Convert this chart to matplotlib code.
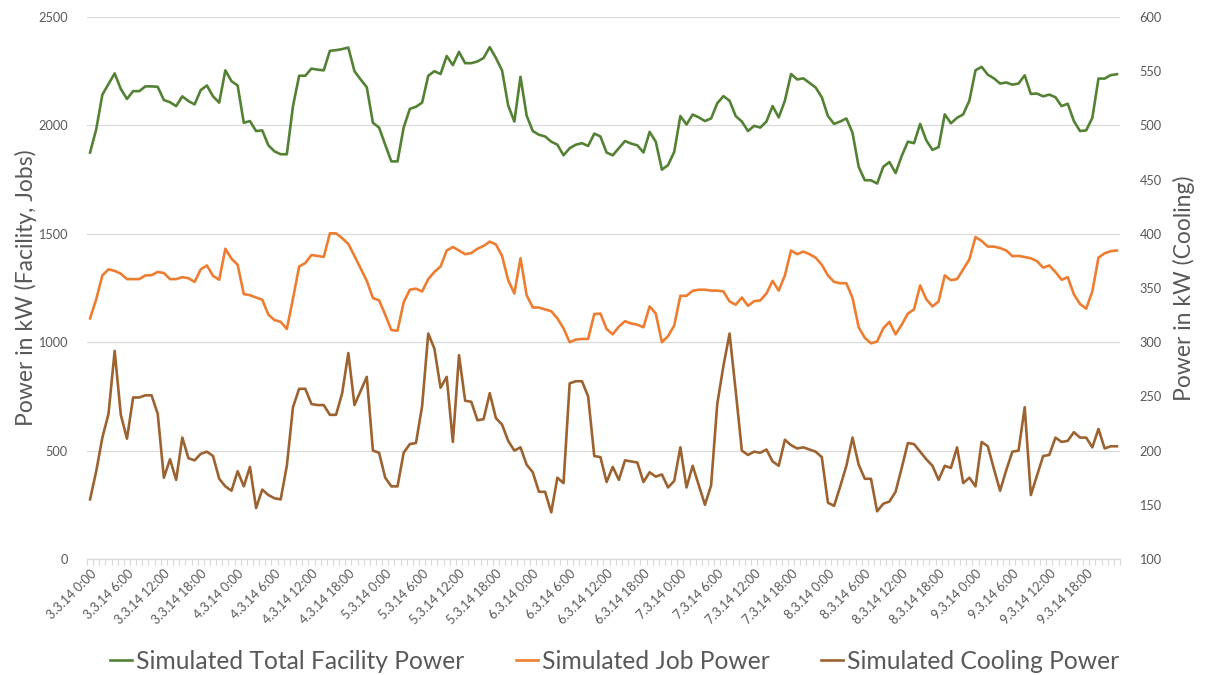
import matplotlib.pyplot as plt
import numpy as np

# hourly values, 3.3.14 0:00 .. 9.3.14 23:00
facility_kw = [
    1875, 1982, 2142, 2191, 2240, 2168, 2122, 2158, 2158, 2180, 2180, 2178, 2117, 2107,
    2089, 2134, 2112, 2097, 2163, 2184, 2134, 2105, 2254, 2204, 2184, 2012, 2020, 1974,
    1977, 1908, 1880, 1867, 1867, 2089, 2229, 2229, 2262, 2257, 2254, 2344, 2347, 2352,
    2359, 2250, 2212, 2176, 2012, 1990, 1911, 1834, 1834, 1990, 2076, 2086, 2105, 2229,
    2250, 2237, 2320, 2278, 2339, 2287, 2287, 2295, 2311, 2361, 2311, 2254, 2092, 2018,
    2224, 2045, 1974, 1957, 1949, 1925, 1911, 1862, 1895, 1911, 1918, 1905, 1962, 1949,
    1875, 1862, 1895, 1928, 1916, 1908, 1875, 1970, 1925, 1796, 1817, 1878, 2043, 2004,
    2050, 2037, 2020, 2032, 2102, 2135, 2114, 2043, 2018, 1974, 1998, 1990, 2018, 2089,
    2037, 2114, 2237, 2212, 2217, 2196, 2175, 2130, 2043, 2007, 2018, 2032, 1966, 1809,
    1747, 1747, 1732, 1809, 1831, 1780, 1859, 1925, 1918, 2007, 1931, 1887, 1900, 2051,
    2010, 2035, 2051, 2114, 2254, 2270, 2234, 2217, 2193, 2198, 2188, 2193, 2231, 2145,
    2147, 2134, 2142, 2130, 2089, 2100, 2020, 1974, 1977, 2035, 2216, 2216, 2232, 2236,
]
job_kw = [
    1110, 1198, 1308, 1336, 1329, 1316, 1291, 1291, 1291, 1308, 1309, 1324, 1319, 1291,
    1291, 1300, 1295, 1278, 1336, 1354, 1306, 1288, 1431, 1385, 1357, 1222, 1217, 1206,
    1196, 1127, 1102, 1094, 1061, 1201, 1349, 1365, 1402, 1398, 1393, 1502, 1502, 1480,
    1453, 1398, 1341, 1283, 1204, 1193, 1127, 1056, 1053, 1184, 1242, 1247, 1234, 1291,
    1324, 1349, 1423, 1439, 1423, 1406, 1411, 1431, 1444, 1464, 1451, 1398, 1286, 1225,
    1387, 1217, 1160, 1160, 1151, 1143, 1110, 1064, 1000, 1012, 1015, 1015, 1130, 1132,
    1061, 1036, 1072, 1097, 1086, 1081, 1069, 1165, 1132, 1000, 1028, 1077, 1214, 1214,
    1237, 1242, 1242, 1238, 1238, 1234, 1188, 1173, 1206, 1168, 1189, 1193, 1225, 1283,
    1238, 1308, 1423, 1406, 1418, 1406, 1390, 1357, 1308, 1278, 1272, 1272, 1204, 1069,
    1020, 995, 1003, 1064, 1094, 1036, 1081, 1132, 1151, 1262, 1198, 1165, 1188, 1308,
    1286, 1291, 1336, 1382, 1485, 1467, 1441, 1441, 1434, 1423, 1397, 1398, 1393, 1387,
    1374, 1344, 1354, 1324, 1288, 1300, 1221, 1176, 1155, 1234, 1390, 1410, 1420, 1423,
]
cooling_kw = [
    155, 181, 212, 234, 292, 233, 211, 249, 249, 251, 251, 234, 175, 192,
    173, 212, 193, 191, 197, 199, 195, 174, 167, 163, 181, 167, 185, 147,
    164, 159, 156, 155, 186, 240, 257, 257, 243, 242, 242, 233, 233, 253,
    290, 242, 255, 268, 200, 198, 175, 167, 167, 198, 206, 207, 241, 308,
    294, 258, 268, 208, 288, 246, 245, 228, 229, 253, 230, 224, 209, 200,
    203, 187, 180, 162, 162, 143, 175, 170, 262, 264, 264, 250, 195, 194,
    171, 185, 173, 191, 190, 189, 171, 180, 176, 178, 166, 172, 203, 166,
    186, 168, 150, 168, 243, 278, 308, 255, 200, 196, 199, 198, 201, 190,
    186, 210, 205, 202, 203, 201, 199, 194, 152, 149, 167, 186, 212, 187,
    174, 174, 144, 151, 153, 162, 184, 207, 206, 199, 192, 186, 173, 186,
    184, 203, 170, 175, 167, 208, 204, 183, 163, 182, 199, 200, 240, 159,
    177, 195, 196, 212, 208, 209, 217, 212, 212, 203, 220, 202, 204, 204,
]
tick_labels = [f"{3 + h // 24}.3.14 {h % 24}:00" for h in range(0, 168, 6)]

GREEN = "#548235"
ORANGE = "#ED7D31"
BROWN = "#9C6330"
TEXT = "#595959"
GRID = "#D9D9D9"

plt.rcParams["font.family"] = ["Lato", "DejaVu Sans"]

fig = plt.figure(figsize=(12.05, 6.75), dpi=100)
ax = fig.add_axes([87 / 1205, 1 - 559 / 675, (1120 - 87) / 1205, (559 - 17) / 675])
ax2 = ax.twinx()

x = np.arange(len(facility_kw))
l1, = ax.plot(x, facility_kw, color=GREEN, lw=1.9, label="Simulated Total Facility Power")
l2, = ax.plot(x, job_kw, color=ORANGE, lw=1.9, label="Simulated Job Power")
l3, = ax2.plot(x, cooling_kw, color=BROWN, lw=1.9, label="Simulated Cooling Power")

ax.set_xlim(-0.5, len(x) - 0.5)
ax.set_ylim(0, 2500)
ax2.set_ylim(100, 600)
ax.set_yticks(range(0, 2501, 500))
ax2.set_yticks(range(100, 601, 50))
ax.grid(axis="y", color=GRID, lw=0.9)
ax.set_axisbelow(True)

ax.set_xticks(range(0, 168, 6))
ax.set_xticklabels(tick_labels, rotation=45, ha="right", rotation_mode="anchor",
                   fontsize=9.2, color=TEXT)
ax.set_xticks(np.arange(-0.5, len(x), 1), minor=True)
ax.tick_params(axis="x", which="major", length=0, pad=6)
ax.tick_params(axis="x", which="minor", length=4, color=GRID, width=0.8)
ax.tick_params(axis="y", length=0, labelsize=9.2, labelcolor=TEXT, pad=14)
ax2.tick_params(axis="y", length=0, labelsize=9.2, labelcolor=TEXT, pad=14)

for a in (ax, ax2):
    for side in ("top", "left", "right"):
        a.spines[side].set_visible(False)
    a.spines["bottom"].set_color(GRID)

ax.set_ylabel("Power in kW (Facility, Jobs)", fontsize=16.5, color=TEXT, labelpad=1)
ax2.set_ylabel("Power in kW (Cooling)", fontsize=16.5, color=TEXT, labelpad=8)

fig.legend(handles=[l1, l2, l3], loc="center", bbox_to_anchor=(0.51, 0.02), ncol=3,
           frameon=False, fontsize=17.7, labelcolor=TEXT, handlelength=0.9,
           handletextpad=0.15, columnspacing=2.1)

fig.savefig("out.png", dpi=100)
